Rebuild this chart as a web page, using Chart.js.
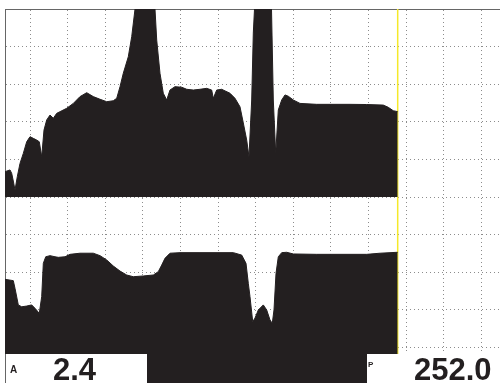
<!DOCTYPE html>
<html>
<head>
<meta charset="utf-8">
<script src="https://cdn.jsdelivr.net/npm/chart.js@4.4.0/dist/chart.umd.min.js"></script>
<style>
  html, body { margin: 0; padding: 0; background: #fff; }
  #wrap { position: relative; width: 500px; height: 383px; overflow: hidden; }
  canvas { position: absolute; left: 0; top: 0; }
  .box { position: absolute; top: 354px; height: 29px; background: #fff; }
  .bar { position: absolute; top: 354px; height: 29px; background: #231f20; }
  .txt { position: absolute; font-family: "Liberation Sans", Arial, sans-serif; font-weight: bold; color: #231f20; line-height: 1; white-space: nowrap; }
</style>
</head>
<body>
<div id="wrap">
  <canvas id="scope" width="500" height="383"></canvas>
  <div class="box" style="left:5px; width:142px; border-left:1px solid #666;"></div>
  <div class="bar" style="left:147px; width:220px;"></div>
  <div class="box" style="left:367px; width:133px;"></div>
  <span class="txt" style="left:10px; top:365px; font-size:10px;">A</span>
  <span class="txt" style="left:53px; top:354px; font-size:31px;">2.4</span>
  <span class="txt" style="left:368px; top:361px; font-size:8px;">P</span>
  <span class="txt" style="left:414px; top:354px; font-size:31px;">252.0</span>
</div>
<script>
// screen positions in grid divisions, amplitudes in % of screen height
const topX = [-0.665, -0.532, -0.487, -0.439, -0.399, -0.338, -0.266, -0.178, -0.088, 0,
  0.088, 0.178, 0.247, 0.311, 0.372, 0.444, 0.532, 0.620, 0.710, 0.798,
  0.976, 1.152, 1.330, 1.508, 1.684, 1.862, 2.040, 2.215, 2.306, 2.394,
  2.481, 2.614, 2.705, 2.793, 3.324, 3.370, 3.457, 3.545, 3.636, 3.723,
  3.856, 4.035, 4.168, 4.343, 4.521, 4.699, 4.832, 4.875, 4.965, 5.098,
  5.319, 5.452, 5.585, 5.673, 5.763, 5.824, 5.896, 5.939, 5.971, 6.423,
  6.471, 6.535, 6.604, 6.694, 6.782, 6.870, 7.003, 7.181, 7.625, 8.511,
  8.955, 9.396, 9.529, 9.662, 9.779];
const topAmp = [13.5, 14.4, 12.6, 8.0, 3.7, 10.8, 17.9, 23.2, 29.4, 32.1,
  31.2, 30.3, 29.4, 21.4, 35.6, 41.0, 43.6, 41.9, 44.5, 45.4,
  47.2, 49.8, 53.4, 55.5, 53.4, 52.0, 50.7, 51.2, 52.5, 58.7,
  65.8, 74.6, 85.3, 100, 100, 83.5, 65.8, 55.2, 51.6, 56.9,
  58.7, 58.4, 57.3, 56.9, 57.3, 57.8, 56.9, 52.5, 56.9, 57.3,
  55.2, 52.5, 48.0, 39.4, 30.3, 21.4, 51.6, 87.2, 100, 100,
  51.6, 23.2, 46.3, 51.6, 54.3, 53.6, 51.6, 49.8, 49.3, 49.3,
  49.2, 48.9, 47.7, 45.9, 45.4];

const bottomX = [-0.665, -0.444, -0.399, -0.311, -0.221, -0.088, 0.045, 0.133, 0.247, 0.311,
  0.354, 0.418, 0.532, 0.665, 0.753, 0.931, 1.064, 1.330, 1.684, 1.862,
  2.040, 2.215, 2.394, 2.572, 2.747, 3.013, 3.279, 3.412, 3.503, 3.590,
  3.723, 3.989, 4.521, 5.407, 5.630, 5.745, 5.806, 5.851, 5.923, 5.984,
  6.072, 6.205, 6.295, 6.383, 6.444, 6.489, 6.543, 6.604, 6.694, 6.827,
  7.003, 7.625, 8.955, 9.309, 9.779];
const bottomAmp = [56.2, 55.5, 51.4, 42.6, 41.6, 42.0, 42.6, 40.8, 38.1, 47.0,
  64.7, 68.2, 68.8, 68.2, 67.9, 68.2, 69.5, 70.1, 70.1, 68.8,
  66.5, 63.3, 60.6, 58.5, 57.6, 58.0, 58.5, 60.3, 63.8, 67.4,
  70.1, 70.4, 70.4, 70.4, 69.1, 64.7, 54.1, 47.0, 33.7, 35.6,
  39.9, 42.6, 39.9, 34.6, 32.8, 39.9, 59.4, 68.2, 70.4, 70.6,
  69.7, 69.5, 69.5, 70.1, 70.6];

const gatePos = 9.779;
const xGrid = [0, 1, 2, 3, 4, 5, 6, 7, 8, 9, 10, 11, 12];
const yGrid = [-80, -60, -40, -20, 0, 20, 40, 60, 80, 100];

const ink = "#231f20";
const toPoints = (xs, ys) => xs.map((x, i) => ({ x: x, y: ys[i] }));

new Chart(document.getElementById("scope"), {
  type: "line",
  data: {
    datasets: [
      {
        data: toPoints(topX, topAmp),
        yAxisID: "y",
        borderColor: ink,
        backgroundColor: ink,
        borderWidth: 1,
        pointRadius: 0,
        fill: { value: 0 },
      },
      {
        data: toPoints(bottomX, bottomAmp),
        yAxisID: "yB",
        borderColor: ink,
        backgroundColor: ink,
        borderWidth: 1,
        pointRadius: 0,
        fill: "start",
      },
      {
        // gate cursor
        data: [{ x: gatePos, y: 100 }, { x: gatePos, y: -98.9 }],
        yAxisID: "y",
        borderColor: "#f5e92a",
        borderWidth: 1.5,
        pointRadius: 0,
        fill: false,
      },
    ],
  },
  options: {
    responsive: false,
    animation: false,
    layout: { padding: { left: 5, top: 9, right: 0, bottom: 0 } },
    plugins: {
      legend: { display: false },
      tooltip: { enabled: false },
    },
    scales: {
      x: {
        type: "linear",
        position: "top",
        min: -0.665,
        max: 12.5,
        afterBuildTicks: (axis) => { axis.ticks = xGrid.map((v) => ({ value: v })); },
        ticks: { display: false },
        grid: { color: "#8c8c8c", lineWidth: 1, drawTicks: false },
        border: { display: true, color: "#666", width: 1, dash: [1, 3] },
      },
      y: {
        type: "linear",
        min: -98.9,
        max: 100,
        afterBuildTicks: (axis) => { axis.ticks = yGrid.map((v) => ({ value: v })); },
        ticks: { display: false },
        grid: { color: "#8c8c8c", lineWidth: 1, drawTicks: false },
        border: { display: true, color: "#666", width: 1, dash: [1, 3] },
      },
      yB: {
        type: "linear",
        display: false,
        min: 1.06,
        max: 200,
      },
    },
  },
});
</script>
</body>
</html>
